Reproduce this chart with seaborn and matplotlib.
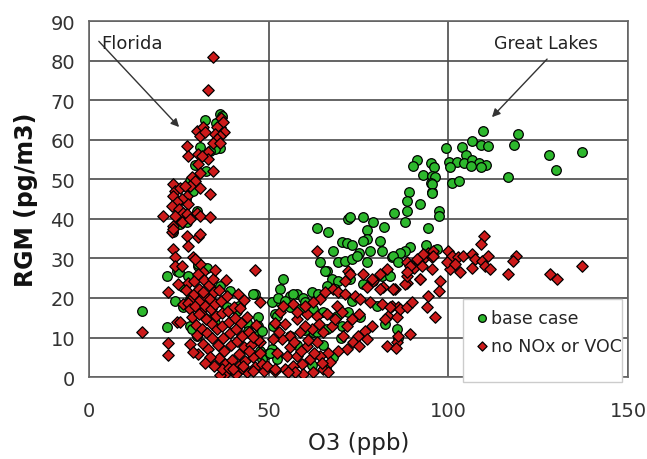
import numpy as np
import pandas as pd
import matplotlib
matplotlib.use("Agg")
import matplotlib.pyplot as plt
import seaborn as sns
from matplotlib.patches import Rectangle

# ── Data (O3 in ppb, RGM in pg/m3) ───────────────────────────────────────────

# base case – Great Lakes arm
gl_base_o3 = [109.7, 119.3, 118.4, 128.1, 137.3, 129.9, 116.7, 106.7, 109.1, 111.1,
              99.4, 103.9, 104.8, 100.3, 102.4, 104.3, 106.6, 108.4, 110.6, 109.1,
              106.2, 100.5, 101.0, 102.9, 91.2, 90.1, 95.2, 96.0, 93.0, 95.4,
              96.3, 95.2, 95.4, 89.1, 88.4, 88.4, 92.1, 84.9, 87.9, 97.5,
              97.5, 94.4, 95.4, 95.4, 93.7, 89.3, 87.9, 86.6, 84.7, 86.1, 96.8]
gl_base_rgm = [62.1, 61.5, 58.6, 56.1, 57.0, 52.4, 50.5, 59.7, 58.7, 58.5,
               58.0, 58.2, 56.1, 54.4, 54.4, 54.1, 55.0, 54.1, 53.5, 53.1,
               53.3, 53.2, 49.1, 49.7, 54.9, 53.3, 54.1, 53.2, 51.1, 50.9,
               50.6, 49.0, 46.7, 46.9, 44.4, 42.0, 43.7, 41.4, 39.1, 42.0,
               40.8, 37.8, 48.8, 46.5, 33.4, 32.8, 31.9, 31.5, 30.7, 29.0, 32.5]

# base case – middle
mid_base_o3 = [72.2, 72.6, 76.3, 79.1, 82.1, 77.3, 63.4, 66.6, 77.3, 76.3,
               81.0, 78.2, 75.0, 70.3, 71.9, 73.1, 68.0, 64.3, 69.4, 71.2,
               73.1, 74.5, 77.3, 81.5, 84.2, 66.2, 67.5, 69.4, 72.6, 76.3,
               79.1, 82.9, 81.5, 83.8, 65.7, 53.9, 53.2, 50.8, 52.7, 55.9,
               57.8, 59.6, 62.0, 63.8, 66.2, 68.5, 55.9, 58.7, 62.4, 65.2,
               68.9, 72.2, 75.4, 73.1, 80.1, 51.3, 55.9, 52.2, 62.4, 66.2,
               70.3, 82.4, 85.6, 86.1, 60.1, 54.6, 56.9, 63.4, 60.0, 65.0,
               68.0, 58.0, 70.0, 62.0, 66.0]
mid_base_rgm = [39.9, 40.4, 40.5, 39.1, 38.0, 37.2, 37.8, 36.6, 35.0, 34.5,
                34.5, 31.9, 31.5, 34.2, 33.8, 33.4, 31.9, 29.0, 29.0, 29.4,
                29.8, 30.7, 29.0, 31.9, 30.3, 26.9, 24.8, 24.3, 24.8, 23.5,
                24.3, 26.9, 25.6, 25.6, 26.9, 24.8, 22.2, 18.9, 20.1, 20.6,
                21.0, 20.1, 21.4, 21.0, 23.1, 22.2, 17.6, 17.2, 17.2, 16.4,
                15.5, 16.4, 15.1, 19.3, 18.0, 13.0, 10.4, 15.5, 11.3, 12.1,
                13.0, 13.4, 12.1, 10.0, 18.9, 19.3, 21.0, 11.3, 12.0, 8.0,
                5.0, 8.0, 10.0, 3.0, 2.0]

# base case – low O3 side
left_base_o3 = [21.6, 24.4, 27.6, 30.4, 32.8, 36.5, 39.2, 42.0, 46.2, 53.2,
                51.8, 14.7, 21.6, 23.9, 26.2, 36.9, 38.3, 41.1, 43.9, 47.1,
                47.1, 44.3, 46.7, 49.5, 48.1, 45.7, 28.1, 30.0, 32.8, 35.1,
                50.8, 51.8, 52.2, 26.2, 28.1, 28.6, 48.1, 41.6, 47.6, 50.4,
                24.9, 30.4]
left_base_rgm = [25.6, 26.9, 25.6, 28.1, 27.7, 23.1, 21.8, 18.0, 21.0, 18.9,
                 15.9, 16.8, 12.6, 19.3, 17.6, 18.9, 17.6, 16.8, 13.8, 15.1,
                 13.0, 11.7, 10.4, 5.8, 4.6, 21.0, 13.0, 10.4, 14.7, 13.8,
                 7.1, 5.8, 4.6, 22.7, 19.7, 12.1, 11.7, 18.0, 6.6, 6.2,
                 26.6, 28.6]

# base case – Florida arm
fl_base_o3 = [36.5, 37.0, 32.3, 35.3, 36.5, 35.1, 33.7, 30.9, 32.6, 29.5,
              28.1, 27.2, 25.3, 23.5, 27.0, 29.0, 30.0]
fl_base_rgm = [66.5, 66.0, 65.0, 64.2, 57.9, 57.6, 57.2, 58.2, 52.1, 53.7,
               49.6, 39.1, 38.7, 36.6, 45.0, 47.0, 42.0]

# no NOx or VOC – Florida arm
fl_nox_o3 = [34.6, 33.2, 36.7, 36.5, 37.2, 35.5, 36.9, 37.6, 35.1, 36.5,
             35.5, 34.6, 36.5, 30.0, 31.8, 30.9, 32.3, 27.2, 27.6, 30.4,
             33.2, 33.2, 31.4, 30.4, 30.9, 34.6, 28.6, 29.5, 30.9, 33.7,
             28.1, 23.5, 23.9, 23.5, 25.3, 26.7, 27.2, 25.8, 24.4, 27.6,
             23.0, 24.9, 26.2, 20.7, 23.9, 27.2, 30.0, 30.9, 33.7, 23.5,
             25.8, 28.1, 23.0]
fl_nox_rgm = [81.0, 72.5, 65.6, 63.1, 64.4, 63.1, 61.8, 62.0, 61.4, 61.0,
              60.2, 59.3, 59.2, 62.3, 63.1, 61.0, 61.9, 58.5, 55.9, 56.4,
              56.8, 55.1, 55.9, 53.8, 51.7, 52.1, 50.5, 49.6, 47.9, 46.3,
              48.4, 48.8, 47.1, 45.8, 47.9, 48.4, 45.8, 45.0, 44.2, 43.7,
              43.3, 42.5, 41.6, 40.8, 40.8, 41.2, 41.6, 40.8, 40.4, 38.3,
              39.1, 39.9, 36.6]

# no NOx or VOC – low O3 side
left_nox_o3 = [23.5, 23.5, 23.9, 23.9, 27.2, 27.6, 30.4, 30.9, 29.0, 30.9,
               31.8, 25.8, 27.6, 28.6, 29.5, 46.2, 21.9, 14.7, 22.1, 22.1,
               24.4, 25.3, 24.7, 26.1, 30.4, 28.1, 47.6, 47.6]
left_nox_rgm = [37.4, 32.4, 30.3, 28.1, 35.7, 33.2, 35.3, 36.1, 30.3, 28.6,
                26.5, 28.1, 23.9, 20.1, 29.8, 27.1, 21.6, 11.3, 8.5, 5.6,
                14.0, 14.0, 23.5, 18.5, 5.8, 8.3, 18.9, 8.8]

# no NOx or VOC – dense band 27-52 ppb
dense_nox_o3 = [27.0, 27.6, 28.2, 28.7, 29.1, 29.3, 29.6, 29.9, 30.1, 30.3,
                30.6, 30.8, 31.1, 31.3, 31.6, 31.9, 32.1, 32.4, 32.6, 32.9,
                33.1, 33.3, 33.6, 33.9, 34.1, 34.3, 34.6, 34.9, 35.1, 35.3,
                35.6, 35.9, 36.1, 36.3, 36.6, 36.9, 37.1, 37.3, 37.6, 37.9,
                38.1, 38.4, 38.7, 39.0, 39.3, 39.6, 39.9, 40.1, 40.4, 40.7,
                41.0, 41.3, 41.6, 41.9, 42.1, 42.4, 42.7, 43.1, 43.5, 43.9,
                44.1, 44.6, 45.1, 45.6, 46.1, 46.6, 47.1, 47.6, 48.1, 48.6,
                36.5, 37.0, 39.0, 41.0, 42.5, 44.5, 45.5, 49.5, 51.8, 45.7,
                42.9, 40.2, 33.8, 34.8, 32.2, 29.0, 30.5, 31.8, 35.0, 38.2,
                41.5, 43.2]
dense_nox_rgm = [22.0, 18.8, 17.2, 15.3, 24.2, 21.1, 17.9, 13.2, 10.6, 26.1,
                 22.4, 19.6, 16.2, 12.1, 8.4, 24.6, 20.8, 18.1, 14.6, 11.2,
                 7.1, 23.2, 19.8, 17.1, 13.4, 9.8, 24.8, 21.4, 18.6, 15.4,
                 12.2, 8.1, 4.9, 22.1, 19.2, 16.1, 12.8, 9.9, 6.6, 3.2,
                 1.1, 20.4, 16.8, 13.9, 11.1, 8.2, 4.4, 1.6, 17.8, 14.9,
                 12.2, 9.1, 5.9, 3.1, 17.4, 13.6, 10.4, 7.6, 4.1, 1.4,
                 15.2, 11.4, 8.1, 5.1, 2.6, 13.1, 9.4, 6.1, 3.4, 1.5,
                 0.6, 2.1, 2.4, 0.9, 2.2, 6.6, 10.1, 2.9, 1.6, 1.6,
                 2.9, 2.0, 5.2, 2.8, 3.6, 6.4, 16.0, 21.5, 27.0, 24.6,
                 21.0, 19.5]

# no NOx or VOC – middle
mid_nox_o3 = [63.4, 72.2, 72.6, 76.3, 79.1, 77.3, 81.9, 85.2, 88.4, 68.0,
              69.4, 71.2, 74.0, 75.4, 78.2, 81.5, 84.2, 86.1, 83.3, 82.4,
              85.6, 82.9, 85.6, 86.1, 78.7, 76.8, 74.9, 73.5, 77.3, 71.7,
              69.4, 56.9, 53.2, 51.8, 54.6, 57.8, 60.6, 63.4, 66.2, 62.0,
              58.7, 55.9, 53.6, 51.3, 52.2, 55.0, 57.8, 60.6, 63.4, 65.2,
              67.5, 66.6, 64.3, 61.5, 59.2, 56.9, 54.6, 51.8, 67.1, 65.2,
              62.4, 59.6, 57.3, 55.5, 66.6, 64.3, 65.7, 62.4, 68.9, 70.3,
              68.5, 71.7, 73.1, 75.0, 70.8, 71.2, 78.7, 81.0, 82.9, 84.7,
              81.0, 83.8, 86.6, 88.4, 89.8, 87.9, 88.4, 90.3, 91.7, 93.5,
              94.4, 95.8, 95.4, 97.7, 97.5, 94.4, 92.1, 94.0, 96.3, 89.3,
              85.4, 75.0, 88.4, 92.6, 95.4]
mid_nox_rgm = [31.9, 26.9, 26.0, 26.0, 24.3, 22.7, 22.7, 22.2, 23.9, 22.2,
               21.4, 21.0, 20.6, 19.7, 18.9, 18.5, 18.0, 17.6, 15.5, 14.7,
               15.1, 7.9, 8.8, 10.4, 13.0, 11.7, 10.4, 8.8, 9.6, 7.1,
               6.6, 18.5, 16.4, 13.8, 13.4, 14.7, 15.9, 15.5, 15.9, 12.1,
               11.3, 10.4, 9.6, 9.6, 6.2, 5.4, 5.4, 7.9, 8.8, 11.3,
               13.0, 6.2, 5.4, 4.6, 3.3, 2.9, 2.0, 2.0, 3.7, 2.0,
               1.2, 0.8, 1.2, 1.2, 1.2, 19.7, 21.4, 18.9, 18.0, 16.4,
               14.7, 13.0, 14.7, 15.9, 10.4, 24.3, 24.8, 26.0, 27.3, 22.2,
               22.2, 17.6, 17.2, 17.6, 18.9, 23.5, 25.6, 27.7, 29.4, 30.3,
               31.5, 31.9, 27.3, 24.3, 21.8, 20.6, 24.8, 17.6, 15.1, 10.9,
               7.4, 7.9, 29.0, 28.1, 30.3]

valley_nox_o3 = [58.0, 60.0, 61.0, 64.0, 56.0, 53.0, 59.0, 62.5, 64.8, 57.0, 60.0, 54.0]
valley_nox_rgm = [16.5, 13.0, 9.5, 13.5, 7.5, 11.5, 6.5, 6.0, 3.5, 9.0, 18.0, 18.0]

# no NOx or VOC – Great Lakes arm
gl_nox_o3 = [109.9, 109.0, 100.0, 100.9, 102.8, 104.2, 106.5, 107.4, 109.3, 111.1,
             110.2, 111.6, 106.5, 103.3, 100.5, 99.5, 101.9, 118.8, 118.1, 116.7,
             128.3, 130.2, 137.3, 95.8, 93.0, 91.2, 89.3, 88.4, 92.1, 84.7]
gl_nox_rgm = [35.6, 33.6, 31.9, 30.7, 30.3, 30.7, 31.1, 29.8, 29.4, 30.7,
              28.1, 27.3, 27.7, 26.5, 27.3, 29.0, 28.6, 30.7, 29.4, 26.0,
              26.0, 24.9, 28.1, 30.7, 31.1, 29.8, 28.1, 26.5, 24.8, 22.2]

X_TICKS = [0, 50, 100, 150]
Y_TICKS = list(range(0, 91, 10))

GREEN = "#2db82d"
RED = "#cc1a1a"

# ── Frames ────────────────────────────────────────────────────────────────────

base = pd.DataFrame({
    "O3": np.concatenate([fl_base_o3, left_base_o3, mid_base_o3, gl_base_o3]),
    "RGM": np.concatenate([fl_base_rgm, left_base_rgm, mid_base_rgm, gl_base_rgm]),
})
nox = pd.DataFrame({
    "O3": np.concatenate([fl_nox_o3, left_nox_o3, dense_nox_o3, mid_nox_o3,
                          valley_nox_o3, gl_nox_o3]),
    "RGM": np.concatenate([fl_nox_rgm, left_nox_rgm, dense_nox_rgm, mid_nox_rgm,
                           valley_nox_rgm, gl_nox_rgm]),
})

# ── Plot ──────────────────────────────────────────────────────────────────────

sns.set_style("white")
plt.rcParams["font.family"] = ["DejaVu Sans"]

fig = plt.figure(figsize=(6.47, 4.6), dpi=100)
ax = fig.add_axes([0.1376, 0.178, 0.8331, 0.774])

sns.scatterplot(data=base, x="O3", y="RGM", ax=ax, marker="o", color=GREEN,
                edgecolor="black", linewidth=0.9, s=48, zorder=3,
                label="base case", legend=False)
sns.scatterplot(data=nox, x="O3", y="RGM", ax=ax, marker="D", color=RED,
                edgecolor="black", linewidth=0.9, s=34, zorder=4,
                label="no NOx or VOC", legend=False)

ax.set_xlim(0, 150)
ax.set_ylim(0, 90)
ax.set_xticks(X_TICKS)
ax.set_yticks(Y_TICKS)
ax.grid(True, color="#4a4a4a", linewidth=1.2, zorder=0)
ax.set_axisbelow(True)
for sp in ax.spines.values():
    sp.set_color("#666666")
    sp.set_linewidth(1.2)

ax.tick_params(axis="x", length=0, labelsize=14, pad=17, labelcolor="#333333")
ax.tick_params(axis="y", length=0, labelsize=14, pad=10, labelcolor="#333333")
ax.set_xlabel("O3 (ppb)", fontsize=16.5, labelpad=8, color="#222222")
ax.set_ylabel("RGM (pg/m3)", fontsize=17, fontweight="bold", labelpad=9, color="#111111")

# annotations
ax.annotate("", xy=(25.6, 62.7), xytext=(2.2, 85.4),
            arrowprops=dict(arrowstyle="-|>", color="#333333", lw=1, mutation_scale=12))
ax.text(3.4, 84.4, "Florida", fontsize=13, va="center", ha="left", color="#222222")
ax.annotate("", xy=(111.6, 65.2), xytext=(128.0, 80.9),
            arrowprops=dict(arrowstyle="-|>", color="#333333", lw=1, mutation_scale=12))
ax.text(127.2, 84.4, "Great Lakes", fontsize=12.5, va="center", ha="center", color="#222222")

# legend box
ax.add_patch(Rectangle((0.694, -0.014), 0.2955, 0.233, transform=ax.transAxes,
                       facecolor="white", edgecolor="#cccccc", lw=1,
                       zorder=5, clip_on=False))
leg = ax.legend(loc="upper left", bbox_to_anchor=(0.7, 0.212), frameon=False,
                fontsize=12.5, handletextpad=0.0, labelspacing=0.6,
                handlelength=1.0, borderaxespad=0, markerscale=0.8)
leg.set_zorder(6)

fig.savefig("out.png", dpi=100)
